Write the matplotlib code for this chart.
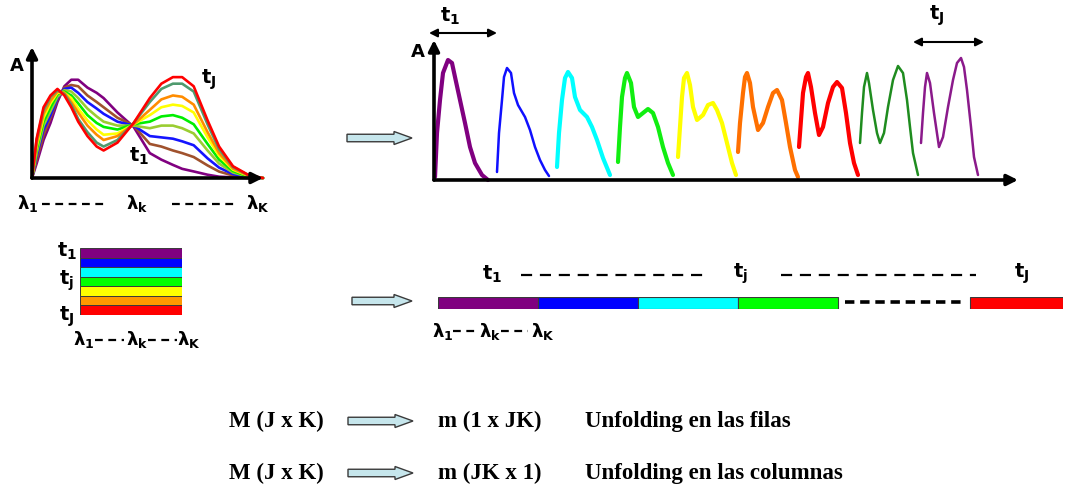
import matplotlib
matplotlib.use('Agg')
import matplotlib.pyplot as plt
from matplotlib.patches import FancyArrow

plt.rcParams['mathtext.fontset'] = 'custom'
for _k in ['rm', 'it', 'bf', 'sf']:
    plt.rcParams['mathtext.' + _k] = 'DejaVu Sans:bold'
plt.rcParams['mathtext.default'] = 'it'

W, H = 1065, 488

# ---------------- data ----------------
# Left panel: spectra (absorbance vs wavelength) at successive times t1 ... tJ
wavelength = [0, 2, 5, 8, 11, 14, 17, 20, 24, 28, 31, 37, 44, 51, 56, 61, 65, 70, 76, 81, 87, 94, 100]
spec_t1 = [0, 11, 29, 42, 58, 70, 75, 75, 69, 65, 61, 50, 39, 19, 14, 10, 7, 5, 2.5, 1, 0.5, 0, 0]
spec_t2 = [0, 14, 33, 46, 60, 69, 71, 70, 63, 58, 54, 46, 40, 26, 24, 21, 19, 16, 9.6, 4.9, 1.9, 0.3, 0]
spec_t3 = [0, 17, 37, 48, 61, 68, 69, 65, 58, 53, 49, 43, 40, 32, 31, 30, 28, 25, 15, 7.9, 3, 0.6, 0]
spec_t4 = [0, 19, 40, 51, 62, 67, 66, 61, 53, 47, 43, 40, 40, 38, 40, 40, 38, 34, 21, 11, 4.2, 0.9, 0]
spec_t5 = [0, 22, 43, 54, 64, 66, 63, 57, 48, 42, 39, 37, 41, 43, 47, 48, 46, 41, 26, 14, 5.3, 1.1, 0]
spec_t6 = [0, 24, 46, 57, 65, 65, 61, 53, 44, 37, 33, 34, 41, 48, 54, 56, 55, 50, 31, 17, 6.4, 1.4, 0]
spec_t7 = [0, 26, 49, 59, 66, 65, 58, 50, 40, 33, 29, 32, 41, 52, 60, 63, 62, 56, 35, 19, 7.2, 1.6, 0]
spec_t8 = [0, 29, 52, 62, 67, 64, 56, 45, 35, 27, 24, 29, 42, 58, 68, 72, 72, 66, 41, 22, 8.4, 1.9, 0]
spec_tJ = [0, 30, 54, 63, 68, 63, 54, 43, 32, 24, 21, 27, 42, 61, 72, 77, 77, 70, 44, 24, 9, 2, 0]
spectra = [spec_t1, spec_t2, spec_t3, spec_t4, spec_t5, spec_t6, spec_t7, spec_t8, spec_tJ]
spectra_colors = ['#800080', '#a0522d', '#1414ff', '#9acd32', '#00ee00',
                  '#ffff00', '#ff8c00', '#4f9a6e', '#ff0000']

# Right panel: row-wise unfolded traces (position along unfolded axis, absorbance)
unf_x1 = [1, 3, 6, 9, 14, 18, 21, 26, 31, 36, 41, 48, 54]
unf_y1 = [3, 47, 80, 107, 120, 117, 103, 80, 57, 33, 17, 5, 0]
unf_x2 = [63, 65, 68, 70, 73, 77, 80, 84, 91, 96, 101, 106, 111, 115]
unf_y2 = [8, 47, 80, 103, 112, 107, 87, 75, 63, 50, 33, 20, 10, 4]
unf_x3 = [123, 125, 128, 131, 134, 138, 141, 146, 153, 158, 163, 169, 176]
unf_y3 = [13, 47, 80, 102, 108, 102, 83, 70, 63, 53, 40, 22, 5]
unf_x4 = [184, 186, 188, 191, 193, 197, 200, 204, 209, 214, 219, 224, 229, 234, 239]
unf_y4 = [18, 53, 83, 102, 107, 97, 73, 63, 67, 71, 67, 53, 33, 17, 5]
unf_x5 = [244, 246, 248, 250, 253, 256, 259, 263, 269, 274, 279, 283, 288, 293, 298, 302]
unf_y5 = [23, 53, 83, 102, 107, 95, 73, 60, 65, 75, 77, 70, 57, 37, 17, 5]
unf_x6 = [304, 306, 309, 311, 313, 316, 319, 324, 329, 334, 339, 343, 348, 352, 356, 361, 364]
unf_y6 = [28, 57, 87, 103, 107, 97, 73, 50, 57, 73, 87, 90, 80, 57, 33, 10, 3]
unf_x7 = [365, 367, 369, 372, 374, 377, 381, 385, 389, 394, 399, 403, 408, 412, 416, 420, 424]
unf_y7 = [33, 60, 87, 103, 107, 93, 67, 45, 53, 77, 93, 98, 92, 67, 37, 17, 5]
unf_x8 = [426, 428, 430, 433, 435, 439, 443, 446, 450, 454, 459, 464, 469, 473, 476, 479, 484]
unf_y8 = [37, 67, 93, 107, 97, 70, 47, 37, 47, 73, 100, 114, 107, 80, 53, 27, 5]
unf_x9 = [487, 489, 491, 493, 496, 500, 505, 509, 514, 519, 523, 527, 530, 533, 537, 540, 544]
unf_y9 = [37, 67, 93, 107, 97, 67, 33, 43, 73, 100, 117, 122, 113, 90, 53, 23, 5]
unf_traces = [(unf_x1, unf_y1), (unf_x2, unf_y2), (unf_x3, unf_y3), (unf_x4, unf_y4),
              (unf_x5, unf_y5), (unf_x6, unf_y6), (unf_x7, unf_y7), (unf_x8, unf_y8),
              (unf_x9, unf_y9)]
unf_colors = ['#800080', '#1010ff', '#00ffff', '#11ee11', '#ffff00',
              '#ff7000', '#ff0000', '#1f8c1f', '#8b1a8b']
unf_widths = [3.0, 1.8, 3.0, 3.0, 3.0, 3.0, 3.0, 1.8, 1.8]

# Matrix rows (times) and unfolded row blocks
matrix_rows = ['t1', 't2', 't3', 'tj', 't5', 't6', 'tJ']
matrix_colors = ['#800080', '#0000ff', '#00ffff', '#00ff00', '#ffff00', '#ff9900', '#ff0000']
block_left = [0, 1, 2, 3, 5.32]
block_width = [1, 1, 1, 1, 0.93]
block_colors = ['#800080', '#0000ff', '#00ffff', '#00ff00', '#ff0000']

row1_texts = ['M (J x K)', 'm (1 x JK)', 'Unfolding en las filas']
row2_texts = ['M (J x K)', 'm (JK x 1)', 'Unfolding en las columnas']

# ---------------- figure ----------------
fig = plt.figure(figsize=(W / 100, H / 100), dpi=100)
ax0 = fig.add_axes([0, 0, 1, 1])
ax0.set_xlim(0, W)
ax0.set_ylim(H, 0)
ax0.axis('off')


def px_rect(x0, y0, x1, y1):
    return [x0 / W, 1 - y1 / H, (x1 - x0) / W, (y1 - y0) / H]


def axis_arrows(ax, lw=2.6, ms=16):
    kw = dict(arrowstyle='-|>', lw=lw, color='black', mutation_scale=ms,
              shrinkA=0, shrinkB=0)
    ax.annotate('', xy=(1, 0), xytext=(0, 0), xycoords='axes fraction',
                textcoords='axes fraction', arrowprops=kw)
    ax.annotate('', xy=(0, 1), xytext=(0, 0), xycoords='axes fraction',
                textcoords='axes fraction', arrowprops=kw)


def hollow_arrow(x, y, length):
    ax0.add_patch(FancyArrow(x, y, length, 0, width=7.5, head_width=13,
                             head_length=18, length_includes_head=True,
                             fc='#c6e6ec', ec='#3a3a3a', lw=1.0, zorder=3))


def lam_row(x_list, y, labels, dash_spans, fs=13):
    for xx, lab in zip(x_list, labels):
        ax0.text(xx, y, lab, ha='center', va='center', fontsize=fs)
    for (a, b) in dash_spans:
        ax0.plot([a, b], [y, y], color='black', lw=1.6, ls=(0, (3.5, 2.5)))


tfs = 14

# ---- left spectra panel ----
axL = fig.add_axes(px_rect(32, 47, 263, 178))
axL.set_xlim(0, 100)
axL.set_ylim(0, 100)
axL.axis('off')
axL.patch.set_alpha(0)
for s, c in zip(spectra, spectra_colors):
    axL.plot(wavelength, s, color=c, lw=1.9, solid_joinstyle='round',
             solid_capstyle='round', clip_on=False)
axis_arrows(axL)
ax0.text(17, 66, 'A', ha='center', va='center', fontsize=13, fontweight='bold')
ax0.text(209, 80, r'$t_J$', ha='center', va='center', fontsize=tfs)
ax0.text(139, 156, r'$t_1$', ha='center', va='center', fontsize=tfs)
lam_row([28, 137, 258], 204, [r'$\lambda_1$', r'$\lambda_k$', r'$\lambda_K$'],
        [(42, 108), (172, 238)])

# ---- right unfolded traces panel ----
axR = fig.add_axes(px_rect(434, 40, 1018, 180))
axR.set_xlim(0, 584)
axR.set_ylim(0, 140)
axR.axis('off')
axR.patch.set_alpha(0)
for (xs, ys), c, lw in zip(unf_traces, unf_colors, unf_widths):
    axR.plot(xs, ys, color=c, lw=lw, solid_joinstyle='round',
             solid_capstyle='round', clip_on=False)
axis_arrows(axR)
ax0.text(418, 52, 'A', ha='center', va='center', fontsize=13, fontweight='bold')
ax0.text(450, 16, r'$t_1$', ha='center', va='center', fontsize=tfs)
ax0.text(937, 16, r'$t_J$', ha='center', va='center', fontsize=tfs)
dbl = dict(arrowstyle='<|-|>', lw=1.5, color='black', mutation_scale=12,
           shrinkA=0, shrinkB=0)
ax0.annotate('', xy=(497, 33), xytext=(429, 33), arrowprops=dbl)
ax0.annotate('', xy=(984, 42), xytext=(913, 42), arrowprops=dbl)

# ---- arrows between panels ----
hollow_arrow(347, 138, 65)
hollow_arrow(352, 301, 60)
hollow_arrow(348, 421, 65)
hollow_arrow(348, 473, 65)

# ---- matrix (stacked rows) ----
axS = fig.add_axes(px_rect(80, 248, 182, 315))
axS.barh(range(len(matrix_rows)), [1] * len(matrix_rows), left=0, height=1,
         color=matrix_colors, edgecolor='#3a3a3a', lw=0.7)
axS.set_xlim(0, 1)
axS.set_ylim(len(matrix_rows) - 0.5, -0.5)
axS.axis('off')
ax0.text(67, 251, r'$t_1$', ha='center', va='center', fontsize=tfs)
ax0.text(66, 281, r'$t_j$', ha='center', va='center', fontsize=tfs)
ax0.text(67, 317, r'$t_J$', ha='center', va='center', fontsize=tfs)
lam_row([84, 137, 189], 340, [r'$\lambda_1$', r'$\lambda_k$', r'$\lambda_K$'],
        [(95, 124), (148, 177)])

# ---- unfolded row vector ----
axU = fig.add_axes(px_rect(438, 297, 1063, 309))
axU.barh([0] * len(block_left), block_width, left=block_left, height=1,
         color=block_colors, edgecolor='#3a3a3a', lw=0.8)
axU.set_xlim(0, 6.25)
axU.set_ylim(-0.5, 0.5)
axU.axis('off')
ax0.plot([845, 962], [302, 302], color='black', lw=2.6, ls=(0, (2.6, 1.6)))
ax0.text(492, 274, r'$t_1$', ha='center', va='center', fontsize=tfs)
ax0.text(740, 274, r'$t_j$', ha='center', va='center', fontsize=tfs)
ax0.text(1022, 274, r'$t_J$', ha='center', va='center', fontsize=tfs)
ax0.plot([521, 706], [275, 275], color='black', lw=1.6, ls=(0, (5, 3.5)))
ax0.plot([781, 976], [275, 275], color='black', lw=1.6, ls=(0, (5, 3.5)))
lam_row([443, 490, 543], 331, [r'$\lambda_1$', r'$\lambda_k$', r'$\lambda_K$'],
        [(453, 478), (501, 528)])

# ---- bottom text rows ----
tkw = dict(fontsize=16.5, fontweight='bold', family='Liberation Serif',
           va='center', ha='left')
for y, texts in [(421, row1_texts), (473, row2_texts)]:
    ax0.text(229, y, texts[0], **tkw)
    ax0.text(438, y, texts[1], **tkw)
    ax0.text(585, y, texts[2], **tkw)

fig.savefig('out.png', dpi=100)
